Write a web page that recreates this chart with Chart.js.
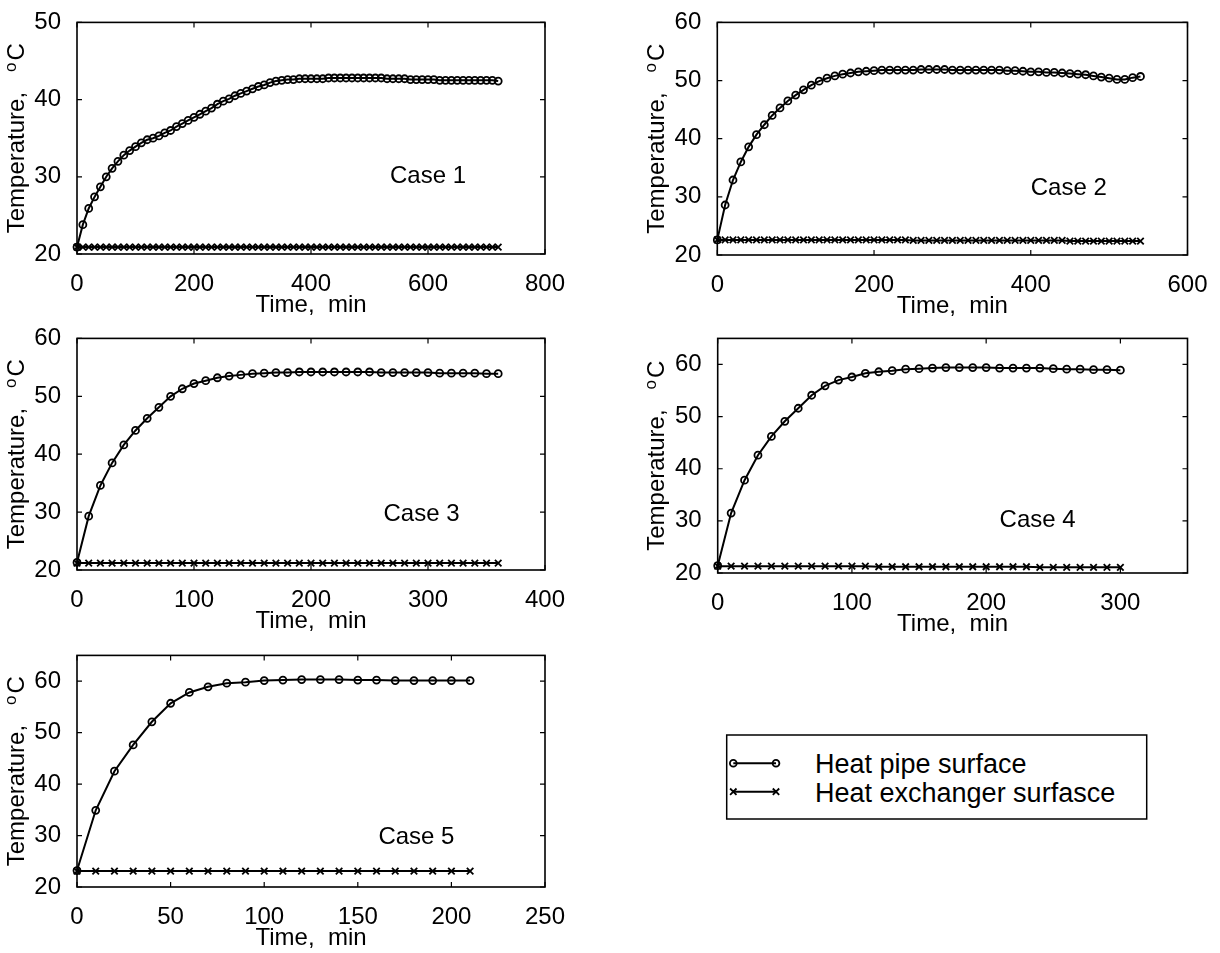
<!DOCTYPE html>
<html>
<head>
<meta charset="utf-8">
<title>Heat pipe and heat exchanger surface temperature, cases 1-5</title>
<script src="https://cdn.jsdelivr.net/npm/chart.js@4/dist/chart.umd.min.js"></script>
<style>
  html, body { margin: 0; padding: 0; background: #fff; overflow: hidden; }
  body { position: relative; width: 1220px; height: 953px; }
  .panel { position: absolute; }
  #legend { position: absolute; left: 720px; top: 728px; }
</style>
</head>
<body>
<div class="panel" style="left:0px;top:0px"><canvas id="case1" width="600" height="320"></canvas></div>
<div class="panel" style="left:640px;top:0px"><canvas id="case2" width="580" height="321"></canvas></div>
<div class="panel" style="left:0px;top:316px"><canvas id="case3" width="600" height="320"></canvas></div>
<div class="panel" style="left:640px;top:316px"><canvas id="case4" width="580" height="323"></canvas></div>
<div class="panel" style="left:0px;top:633px"><canvas id="case5" width="600" height="320"></canvas></div>

<svg id="legend" width="440" height="100" font-family="'Liberation Sans', Arial, Helvetica, sans-serif">
  <rect x="6.7" y="7" width="420" height="84" fill="#fff" stroke="#000" stroke-width="1.5"/>
  <line x1="13.3" y1="35.3" x2="56" y2="35.3" stroke="#000" stroke-width="2"/>
  <circle cx="13.3" cy="35.3" r="3.4" fill="none" stroke="#000" stroke-width="1.8"/>
  <circle cx="56" cy="35.3" r="3.4" fill="none" stroke="#000" stroke-width="1.8"/>
  <line x1="13.3" y1="63.7" x2="56" y2="63.7" stroke="#000" stroke-width="2"/>
  <path d="M10.1 60.5 L16.5 66.9 M10.1 66.9 L16.5 60.5 M52.8 60.5 L59.2 66.9 M52.8 66.9 L59.2 60.5" stroke="#000" stroke-width="1.8"/>
  <text id="legPipe" x="95" y="45.3" font-size="27"></text>
  <text id="legExch" x="95" y="73.7" font-size="27"></text>
</svg>

<script>
// sample times (min), every 10 minutes; each case uses the first N of them
const minutes = [
  0, 10, 20, 30, 40, 50, 60, 70, 80, 90,
  100, 110, 120, 130, 140, 150, 160, 170, 180, 190,
  200, 210, 220, 230, 240, 250, 260, 270, 280, 290,
  300, 310, 320, 330, 340, 350, 360, 370, 380, 390,
  400, 410, 420, 430, 440, 450, 460, 470, 480, 490,
  500, 510, 520, 530, 540, 550, 560, 570, 580, 590,
  600, 610, 620, 630, 640, 650, 660, 670, 680, 690,
  700, 710, 720
];

const seriesNames = ['Heat pipe surface', 'Heat exchanger surfasce'];
const caseNames = ['Case 1', 'Case 2', 'Case 3', 'Case 4', 'Case 5'];

// temperatures, deg C
const case1Pipe = [
  20.9, 23.8, 25.9, 27.4, 28.7, 30.0, 31.1, 32.0, 32.8, 33.4,
  33.9, 34.4, 34.8, 35.0, 35.3, 35.7, 36.0, 36.5, 36.9, 37.3,
  37.7, 38.1, 38.5, 38.9, 39.4, 39.8, 40.1, 40.5, 40.8, 41.1,
  41.4, 41.7, 41.9, 42.2, 42.4, 42.5, 42.6, 42.6, 42.7, 42.7,
  42.7, 42.7, 42.7, 42.8, 42.8, 42.8, 42.8, 42.8, 42.8, 42.8,
  42.8, 42.8, 42.8, 42.7, 42.7, 42.7, 42.7, 42.6, 42.6, 42.6,
  42.6, 42.6, 42.5, 42.5, 42.5, 42.5, 42.5, 42.5, 42.5, 42.5,
  42.5, 42.5, 42.4
];
const case1Exch = [
  20.9, 20.9, 20.9, 20.9, 20.9, 20.9, 20.9, 20.9, 20.9, 20.9,
  20.9, 20.9, 20.9, 20.9, 20.9, 20.9, 20.9, 20.9, 20.9, 20.9,
  20.9, 20.9, 20.9, 20.9, 20.9, 20.9, 20.9, 20.9, 20.9, 20.9,
  20.9, 20.9, 20.9, 20.9, 20.9, 20.9, 20.9, 20.9, 20.9, 20.9,
  20.9, 20.9, 20.9, 20.9, 20.9, 20.9, 20.9, 20.9, 20.9, 20.9,
  20.9, 20.9, 20.9, 20.9, 20.9, 20.9, 20.9, 20.9, 20.9, 20.9,
  20.9, 20.9, 20.9, 20.9, 20.9, 20.9, 20.9, 20.9, 20.9, 20.9,
  20.9, 20.9, 20.9
];
const case2Pipe = [
  22.6, 28.6, 32.9, 36.0, 38.6, 40.7, 42.4, 44.0, 45.3, 46.5,
  47.5, 48.4, 49.2, 49.9, 50.4, 50.8, 51.1, 51.3, 51.5, 51.6,
  51.7, 51.8, 51.8, 51.8, 51.8, 51.8, 51.9, 51.9, 51.9, 51.9,
  51.8, 51.8, 51.8, 51.8, 51.8, 51.8, 51.8, 51.7, 51.7, 51.6,
  51.5, 51.5, 51.4, 51.4, 51.3, 51.2, 51.1, 51.0, 50.8, 50.6,
  50.4, 50.2, 50.2, 50.5, 50.7
];
const case2Exch = [
  22.6, 22.6, 22.6, 22.6, 22.6, 22.6, 22.6, 22.6, 22.6, 22.6,
  22.6, 22.6, 22.6, 22.6, 22.6, 22.6, 22.6, 22.6, 22.6, 22.6,
  22.6, 22.6, 22.6, 22.6, 22.6, 22.5, 22.5, 22.5, 22.5, 22.5,
  22.5, 22.5, 22.5, 22.5, 22.5, 22.5, 22.5, 22.5, 22.5, 22.5,
  22.5, 22.5, 22.5, 22.5, 22.5, 22.4, 22.4, 22.4, 22.4, 22.4,
  22.4, 22.4, 22.4, 22.4, 22.4
];
const case3Pipe = [
  21.3, 29.3, 34.6, 38.5, 41.6, 44.1, 46.2, 48.1, 50.0, 51.3,
  52.2, 52.7, 53.2, 53.5, 53.7, 53.9, 54.0, 54.1, 54.1, 54.2,
  54.2, 54.2, 54.2, 54.2, 54.2, 54.2, 54.1, 54.1, 54.1, 54.1,
  54.1, 54.0, 54.0, 54.0, 54.0, 53.9, 53.9
];
const case3Exch = [
  21.2, 21.2, 21.2, 21.2, 21.2, 21.2, 21.2, 21.2, 21.2, 21.2,
  21.2, 21.2, 21.2, 21.2, 21.2, 21.2, 21.2, 21.2, 21.2, 21.2,
  21.2, 21.2, 21.2, 21.2, 21.2, 21.2, 21.2, 21.2, 21.2, 21.2,
  21.2, 21.2, 21.2, 21.2, 21.2, 21.2, 21.2
];
const case4Pipe = [
  21.4, 31.5, 37.8, 42.6, 46.2, 49.1, 51.6, 54.1, 55.9, 57.0,
  57.6, 58.3, 58.6, 58.8, 59.1, 59.2, 59.3, 59.4, 59.4, 59.4,
  59.4, 59.3, 59.3, 59.3, 59.3, 59.2, 59.1, 59.1, 59.0, 59.0,
  58.9
];
const case4Exch = [
  21.3, 21.3, 21.3, 21.3, 21.3, 21.3, 21.3, 21.3, 21.3, 21.3,
  21.3, 21.3, 21.2, 21.2, 21.2, 21.2, 21.2, 21.2, 21.2, 21.2,
  21.2, 21.2, 21.2, 21.2, 21.1, 21.1, 21.1, 21.1, 21.1, 21.1,
  21.1
];
const case5Pipe = [
  23.2, 34.9, 42.5, 47.6, 52.1, 55.7, 57.8, 58.9, 59.6, 59.8,
  60.1, 60.2, 60.3, 60.3, 60.3, 60.2, 60.2, 60.1, 60.1, 60.1,
  60.1, 60.1
];
const case5Exch = [
  23.1, 23.1, 23.1, 23.1, 23.1, 23.1, 23.1, 23.1, 23.1, 23.1,
  23.1, 23.1, 23.1, 23.1, 23.1, 23.1, 23.1, 23.1, 23.1, 23.1,
  23.1, 23.1
];

// tick values
const xTicksCase1 = [0, 200, 400, 600, 800];
const xTicksCase2 = [0, 200, 400, 600];
const xTicksCase3 = [0, 100, 200, 300, 400];
const xTicksCase4 = [0, 100, 200, 300];
const xTicksCase5 = [0, 50, 100, 150, 200, 250];
const yTicks50 = [20, 30, 40, 50];
const yTicks60 = [20, 30, 40, 50, 60];

const FONT = "'Liberation Sans', Arial, Helvetica, sans-serif";
Chart.defaults.font.family = FONT;
Chart.defaults.color = '#000';

document.getElementById('legPipe').textContent = seriesNames[0];
document.getElementById('legExch').textContent = seriesNames[1];

function points(values) {
  return values.map((v, i) => ({ x: minutes[i], y: v }));
}

// matlab style box with inward ticks + "Temperature, oC" label with superscript o
const matlabAxes = {
  id: 'matlabAxes',
  afterDraw(chart) {
    const { ctx, chartArea: a, scales: { x, y } } = chart;
    ctx.save();
    ctx.strokeStyle = '#000';
    ctx.lineWidth = 1.6;
    ctx.strokeRect(a.left, a.top, a.right - a.left, a.bottom - a.top);

    ctx.lineWidth = 1.2;
    ctx.beginPath();
    x.ticks.forEach(t => {
      const px = x.getPixelForValue(t.value);
      ctx.moveTo(px, a.bottom); ctx.lineTo(px, a.bottom - 5);
      ctx.moveTo(px, a.top); ctx.lineTo(px, a.top + 5);
    });
    y.ticks.forEach(t => {
      const py = y.getPixelForValue(t.value);
      ctx.moveTo(a.left, py); ctx.lineTo(a.left + 5, py);
      ctx.moveTo(a.right, py); ctx.lineTo(a.right - 5, py);
    });
    ctx.stroke();

    // y title
    const big = `24px ${FONT}`, small = `17px ${FONT}`;
    ctx.font = big;
    const w1 = ctx.measureText('Temperature,').width;
    const w3 = ctx.measureText('C').width;
    ctx.font = small;
    const w2 = ctx.measureText('o').width;
    const gap = 20, gap2 = 2;
    ctx.translate(y.left + 24, (a.top + a.bottom) / 2);
    ctx.rotate(-Math.PI / 2);
    ctx.fillStyle = '#000';
    ctx.textAlign = 'left';
    ctx.textBaseline = 'alphabetic';
    let pos = -(w1 + gap + w2 + gap2 + w3) / 2;
    ctx.font = big;
    ctx.fillText('Temperature,', pos, 0);
    pos += w1 + gap;
    ctx.font = small;
    ctx.fillText('o', pos, -8);
    pos += w2 + gap2;
    ctx.font = big;
    ctx.fillText('C', pos, 0);
    ctx.restore();
  }
};

// "Case N" text placed in data coordinates
const caseLabel = {
  id: 'caseLabel',
  afterDatasetsDraw(chart, args, opts) {
    const { ctx, scales: { x, y } } = chart;
    ctx.save();
    ctx.font = `24px ${FONT}`;
    ctx.fillStyle = '#000';
    ctx.textAlign = 'left';
    ctx.textBaseline = 'middle';
    ctx.fillText(opts.text, x.getPixelForValue(opts.at[0]), y.getPixelForValue(opts.at[1]));
    ctx.restore();
  }
};

function makePanel(id, pipe, exch, p) {
  new Chart(document.getElementById(id), {
    type: 'line',
    data: {
      datasets: [
        {
          label: seriesNames[0],
          data: points(pipe),
          borderColor: '#000',
          borderWidth: 2,
          pointStyle: 'circle',
          pointRadius: 3.5,
          pointBorderWidth: 1.8,
          pointBorderColor: '#000',
          pointBackgroundColor: 'rgba(0,0,0,0)',
          clip: false
        },
        {
          label: seriesNames[1],
          data: points(exch),
          borderColor: '#000',
          borderWidth: 2,
          pointStyle: 'crossRot',
          pointRadius: 4.6,
          pointBorderWidth: 1.8,
          pointBorderColor: '#000',
          clip: false
        }
      ]
    },
    options: {
      responsive: false,
      animation: false,
      events: [],
      layout: { padding: { top: p.padTop, right: p.padRight, left: 0, bottom: 0 } },
      plugins: {
        legend: { display: false },
        tooltip: { enabled: false },
        caseLabel: { text: p.name, at: p.labelAt }
      },
      scales: {
        x: {
          type: 'linear',
          min: 0,
          max: p.xMax,
          grid: { display: false },
          border: { display: false },
          afterBuildTicks: s => { s.ticks = p.xTicks.map(v => ({ value: v })); },
          afterFit: s => { s.height = 66; },
          ticks: { padding: 8, font: { size: 24 }, maxRotation: 0, autoSkip: false },
          title: { display: true, text: 'Time,  min', font: { size: 24 }, padding: { top: 0, bottom: 0 } }
        },
        y: {
          type: 'linear',
          min: 20,
          max: p.yMax,
          grid: { display: false },
          border: { display: false },
          afterBuildTicks: s => { s.ticks = p.yTicks.map(v => ({ value: v })); },
          afterFit: s => { s.width = p.yAxisWidth; },
          ticks: { padding: 8, font: { size: 24 }, autoSkip: false }
        }
      }
    },
    plugins: [matlabAxes, caseLabel]
  });
}

makePanel('case1', case1Pipe, case1Exch, {
  name: caseNames[0], labelAt: [535, 30], xMax: 800, yMax: 50,
  xTicks: xTicksCase1, yTicks: yTicks50, padTop: 15, padRight: 55, yAxisWidth: 77
});
makePanel('case2', case2Pipe, case2Exch, {
  name: caseNames[1], labelAt: [400, 31.5], xMax: 600, yMax: 60,
  xTicks: xTicksCase2, yTicks: yTicks60, padTop: 15, padRight: 32.5, yAxisWidth: 77.3
});
makePanel('case3', case3Pipe, case3Exch, {
  name: caseNames[2], labelAt: [262, 29.6], xMax: 400, yMax: 60,
  xTicks: xTicksCase3, yTicks: yTicks60, padTop: 15.7, padRight: 55, yAxisWidth: 77
});
makePanel('case4', case4Pipe, case4Exch, {
  name: caseNames[3], labelAt: [210, 30], xMax: 350, yMax: 65,
  xTicks: xTicksCase4, yTicks: yTicks60, padTop: 16.3, padRight: 32.5, yAxisWidth: 77.7
});
makePanel('case5', case5Pipe, case5Exch, {
  name: caseNames[4], labelAt: [161, 29.6], xMax: 250, yMax: 65,
  xTicks: xTicksCase5, yTicks: yTicks60, padTop: 16, padRight: 55, yAxisWidth: 77
});
</script>
</body>
</html>
